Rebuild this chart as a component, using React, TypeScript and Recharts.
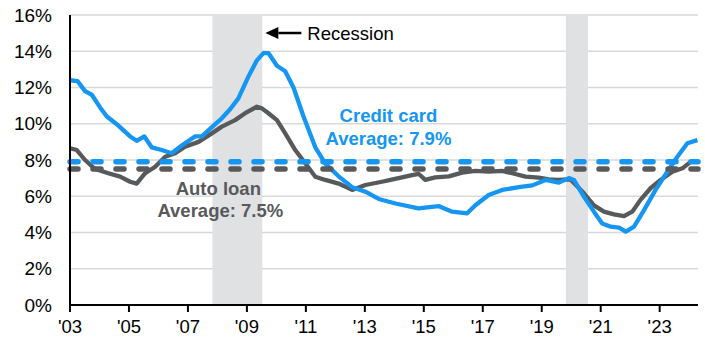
import { LineChart, Line, XAxis, YAxis, CartesianGrid, ReferenceArea, ReferenceLine, ReferenceDot } from 'recharts';

// delinquency transition rates (%)
const cardSeries = [
  { year: 2003.0, rate: 12.4 }, { year: 2003.26, rate: 12.35 }, { year: 2003.51, rate: 11.8 }, { year: 2003.74, rate: 11.6 },
  { year: 2004.02, rate: 10.9 }, { year: 2004.25, rate: 10.4 }, { year: 2004.64, rate: 9.9 }, { year: 2005.04, rate: 9.3 },
  { year: 2005.26, rate: 9.06 }, { year: 2005.52, rate: 9.3 }, { year: 2005.77, rate: 8.7 }, { year: 2006.11, rate: 8.55 },
  { year: 2006.45, rate: 8.37 }, { year: 2006.79, rate: 8.8 }, { year: 2007.24, rate: 9.3 }, { year: 2007.47, rate: 9.3 },
  { year: 2007.87, rate: 9.9 }, { year: 2008.15, rate: 10.3 }, { year: 2008.43, rate: 10.8 }, { year: 2008.71, rate: 11.4 },
  { year: 2009.05, rate: 12.6 }, { year: 2009.34, rate: 13.5 }, { year: 2009.56, rate: 13.9 }, { year: 2009.73, rate: 13.9 },
  { year: 2010.02, rate: 13.2 }, { year: 2010.3, rate: 12.9 }, { year: 2010.58, rate: 12.0 }, { year: 2010.92, rate: 10.4 },
  { year: 2011.32, rate: 8.7 }, { year: 2011.66, rate: 7.8 }, { year: 2012.11, rate: 7.1 }, { year: 2012.57, rate: 6.5 },
  { year: 2013.02, rate: 6.25 }, { year: 2013.47, rate: 5.85 }, { year: 2014.04, rate: 5.6 }, { year: 2014.82, rate: 5.33 },
  { year: 2015.5, rate: 5.46 }, { year: 2015.96, rate: 5.15 }, { year: 2016.47, rate: 5.06 }, { year: 2016.75, rate: 5.5 },
  { year: 2017.2, rate: 6.07 }, { year: 2017.66, rate: 6.35 }, { year: 2018.22, rate: 6.5 }, { year: 2018.68, rate: 6.6 },
  { year: 2019.13, rate: 6.9 }, { year: 2019.58, rate: 6.75 }, { year: 2019.92, rate: 7.0 }, { year: 2020.09, rate: 6.9 },
  { year: 2020.43, rate: 5.98 }, { year: 2020.77, rate: 5.15 }, { year: 2021.05, rate: 4.5 }, { year: 2021.34, rate: 4.32 },
  { year: 2021.62, rate: 4.27 }, { year: 2021.85, rate: 4.05 }, { year: 2022.13, rate: 4.32 }, { year: 2022.47, rate: 5.24 },
  { year: 2022.86, rate: 6.35 }, { year: 2023.26, rate: 7.35 }, { year: 2023.6, rate: 8.18 }, { year: 2023.94, rate: 8.92 },
  { year: 2024.28, rate: 9.1 },
];

const autoSeries = [
  { year: 2003.0, rate: 8.65 }, { year: 2003.23, rate: 8.55 }, { year: 2003.51, rate: 8.0 }, { year: 2003.85, rate: 7.5 },
  { year: 2004.3, rate: 7.27 }, { year: 2004.7, rate: 7.08 }, { year: 2005.04, rate: 6.8 }, { year: 2005.26, rate: 6.7 },
  { year: 2005.55, rate: 7.27 }, { year: 2005.89, rate: 7.63 }, { year: 2006.23, rate: 8.18 }, { year: 2006.57, rate: 8.37 },
  { year: 2006.9, rate: 8.73 }, { year: 2007.36, rate: 9.0 }, { year: 2007.81, rate: 9.47 }, { year: 2008.15, rate: 9.84 },
  { year: 2008.6, rate: 10.2 }, { year: 2008.94, rate: 10.58 }, { year: 2009.34, rate: 10.94 }, { year: 2009.51, rate: 10.85 },
  { year: 2009.73, rate: 10.58 }, { year: 2010.02, rate: 10.2 }, { year: 2010.3, rate: 9.47 }, { year: 2010.64, rate: 8.55 },
  { year: 2010.98, rate: 7.82 }, { year: 2011.32, rate: 7.08 }, { year: 2011.66, rate: 6.9 }, { year: 2012.11, rate: 6.7 },
  { year: 2012.57, rate: 6.35 }, { year: 2013.02, rate: 6.62 }, { year: 2013.58, rate: 6.8 }, { year: 2013.87, rate: 6.9 },
  { year: 2014.26, rate: 7.04 }, { year: 2014.6, rate: 7.17 }, { year: 2014.83, rate: 7.23 }, { year: 2015.05, rate: 6.9 },
  { year: 2015.39, rate: 7.04 }, { year: 2015.85, rate: 7.1 }, { year: 2016.3, rate: 7.3 }, { year: 2016.75, rate: 7.4 },
  { year: 2017.2, rate: 7.36 }, { year: 2017.66, rate: 7.4 }, { year: 2018.0, rate: 7.27 }, { year: 2018.45, rate: 7.08 },
  { year: 2018.9, rate: 7.03 }, { year: 2019.24, rate: 6.93 }, { year: 2019.53, rate: 6.9 }, { year: 2019.98, rate: 6.93 },
  { year: 2020.43, rate: 6.16 }, { year: 2020.77, rate: 5.5 }, { year: 2021.11, rate: 5.15 }, { year: 2021.45, rate: 5.0 },
  { year: 2021.79, rate: 4.9 }, { year: 2022.07, rate: 5.15 }, { year: 2022.35, rate: 5.8 }, { year: 2022.69, rate: 6.44 },
  { year: 2023.03, rate: 6.9 }, { year: 2023.43, rate: 7.35 }, { year: 2023.77, rate: 7.54 }, { year: 2024.05, rate: 7.9 },
  { year: 2024.28, rate: 7.94 },
];

const recessions = [
  { start: 2007.83, end: 2009.52 },
  { start: 2019.82, end: 2020.57 },
];

const cardAverage = 7.9;
const autoAverage = 7.5;

const xTicks = [2003, 2005, 2007, 2009, 2011, 2013, 2015, 2017, 2019, 2021, 2023];
const yTicks = [0, 2, 4, 6, 8, 10, 12, 14, 16];

const BLUE = '#1496f2';
const GRAY = '#58595b';
const FONT = '"Liberation Sans", Arial, sans-serif';

const CardLabel = ({ cx, cy }: any) => (
  <g fontFamily={FONT} fontWeight="bold" fontSize={18.5} fill={BLUE} textAnchor="middle">
    <text x={cx} y={cy}>Credit card</text>
    <text x={cx} y={cy + 23.5}>Average: {cardAverage}%</text>
  </g>
);

const AutoLabel = ({ cx, cy }: any) => (
  <g fontFamily={FONT} fontWeight="bold" fontSize={18.5} fill={GRAY} textAnchor="middle">
    <text x={cx} y={cy}>Auto loan</text>
    <text x={cx + 2} y={cy + 22}>Average: {autoAverage}%</text>
  </g>
);

const RecessionLabel = ({ cx, cy }: any) => (
  <g fontFamily={FONT}>
    <line x1={cx - 29} y1={cy - 7} x2={cx - 6} y2={cy - 7} stroke="#000" strokeWidth={2.5} />
    <polygon points={`${cx - 42},${cy - 7} ${cx - 29},${cy - 13} ${cx - 29},${cy - 1}`} fill="#000" />
    <text x={cx} y={cy} fontSize={18.5} fill="#000">Recession</text>
  </g>
);

export default function App() {
  return (
    <div style={{ position: 'absolute', left: 0, top: 0, fontFamily: FONT }}>
      <LineChart width={705} height={338} margin={{ top: 15, right: 7, bottom: 0, left: 10 }}>
        <CartesianGrid vertical={false} stroke="#d9d9d9" strokeWidth={1.5} />
        <XAxis
          type="number"
          dataKey="year"
          domain={[2003, 2024.3]}
          ticks={xTicks}
          tickFormatter={(v) => `'${String(v).slice(2)}`}
          axisLine={{ stroke: '#000', strokeWidth: 2 }}
          tickLine={{ stroke: '#000', strokeWidth: 2 }}
          tickSize={7}
          tickMargin={8}
          height={33}
          tick={{ fill: '#000', fontSize: 18.5 }}
          allowDataOverflow
        />
        <YAxis
          type="number"
          domain={[0, 16]}
          ticks={yTicks}
          tickFormatter={(v) => `${v}%`}
          axisLine={{ stroke: '#000', strokeWidth: 2 }}
          tickLine={false}
          tickMargin={12}
          width={60}
          tick={{ fill: '#000', fontSize: 19 }}
        />
        {recessions.map((r) => (
          <ReferenceArea key={r.start} x1={r.start} x2={r.end} y1={0} y2={16} fill="#e0e1e3" fillOpacity={1} stroke="none" />
        ))}
        <Line data={autoSeries} dataKey="rate" type="linear" stroke={GRAY} strokeWidth={4.3} dot={false} isAnimationActive={false} strokeLinejoin="round" />
        <Line data={cardSeries} dataKey="rate" type="linear" stroke={BLUE} strokeWidth={4.3} dot={false} isAnimationActive={false} strokeLinejoin="round" />
        <ReferenceLine y={cardAverage} stroke={BLUE} strokeWidth={5.5} strokeDasharray="8 15" strokeLinecap="round" />
        <ReferenceLine y={autoAverage} stroke={GRAY} strokeWidth={5.5} strokeDasharray="8 15" strokeLinecap="round" />
        <ReferenceDot x={2013.8} y={10.1} r={0} shape={CardLabel} />
        <ReferenceDot x={2008.03} y={6.07} r={0} shape={AutoLabel} />
        <ReferenceDot x={2011.05} y={14.62} r={0} shape={RecessionLabel} />
      </LineChart>
    </div>
  );
}
